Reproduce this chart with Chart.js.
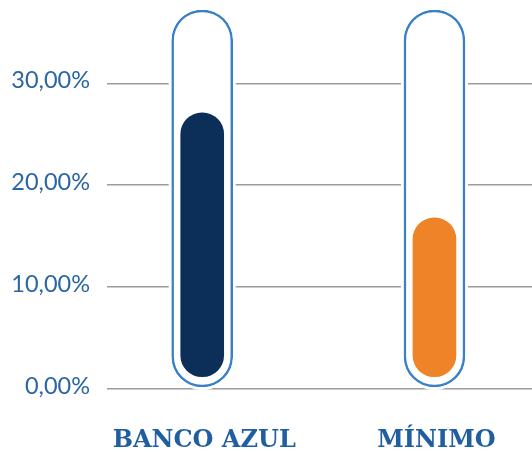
<!DOCTYPE html>
<html lang="es">
<head>
<meta charset="utf-8">
<title>Banco Azul vs mínimo</title>
<script src="https://cdn.jsdelivr.net/npm/chart.js@4/dist/chart.umd.min.js"></script>
<style>
  html, body { margin: 0; padding: 0; background: #fff; }
  canvas { display: block; }
</style>
</head>
<body>
<canvas id="tubes" width="532" height="452"></canvas>
<script>
// ---- Data ----
const categories = ["BANCO AZUL", "MÍNIMO"];
const rates = [27.1, 16.8];          // % filled in each tube
const tubeTop = [37.2, 37.2];        // tube capacity (outline height)
const yTicks = [0, 10, 20, 30];

const fillColors = ["#0c2f5a", "#ee8427"];
const tubeBlue = "#3a80c6";
const labelBlue = "#2a66a5";

// ---- Helpers ----
function pct(v) {
  return v.toFixed(2).replace(".", ",") + "%";
}

function points(values) {
  return values.map((v, i) => ({ x: i, y: v }));
}

// white margin round each tube so the grid lines stop short of it
const tubeHalo = {
  id: "tubeHalo",
  beforeDatasetsDraw(chart) {
    const meta = chart.getDatasetMeta(1);
    const c = chart.ctx;
    c.save();
    c.fillStyle = "#fff";
    meta.data.forEach(bar => {
      const { x, y, base, width } = bar.getProps(["x", "y", "base", "width"], true);
      const w = width / 2 + 3;
      c.beginPath();
      c.roundRect(x - w, y - 3, w * 2, base - y + 6, w);
      c.fill();
    });
    c.restore();
  }
};

// ---- Chart.js ----
const ctx = document.getElementById("tubes").getContext("2d");

new Chart(ctx, {
  type: "bar",
  data: {
    datasets: [
      {
        label: "Tasa",
        data: points(rates),
        backgroundColor: fillColors,
        barThickness: 43,
        borderRadius: 22,
        borderSkipped: false,
        base: 1.2
      },
      {
        label: "Tubo",
        data: points(tubeTop),
        backgroundColor: "#fff",
        borderColor: tubeBlue,
        borderWidth: 2.5,
        barThickness: 61,
        borderRadius: 31,
        borderSkipped: false,
        base: 0.2
      }
    ]
  },
  options: {
    responsive: false,
    animation: false,
    devicePixelRatio: 1,
    layout: { padding: { top: 10, right: 0, bottom: 0, left: 0 } },
    plugins: {
      legend: { display: false },
      tooltip: { enabled: false }
    },
    datasets: { bar: { grouped: false } },
    scales: {
      x: {
        type: "linear",
        offset: false,
        min: -0.41,
        max: 1.42,
        grid: { display: false },
        border: { display: false },
        afterBuildTicks: scale => {
          scale.ticks = categories.map((_, i) => ({ value: i }));
        },
        afterFit: scale => {
          scale.height = 63;
          scale.paddingLeft = 0;
          scale.paddingRight = 0;
        },
        ticks: {
          autoSkip: false,
          maxRotation: 0,
          padding: 29,
          labelOffset: 2,
          color: "#1f5e9f",
          font: { family: "DejaVu Serif", size: 24, weight: "bold" },
          callback: v => categories[v]
        }
      },
      y: {
        min: 0,
        max: 37.2,
        grid: { color: "#9c9c9c", lineWidth: 1.6, drawTicks: false },
        border: { display: false },
        afterBuildTicks: scale => {
          scale.ticks = yTicks.map(v => ({ value: v }));
        },
        afterFit: scale => {
          scale.width = 107;
          scale.paddingTop = 0;
          scale.paddingBottom = 0;
        },
        ticks: {
          padding: 17,
          labelOffset: -3,
          color: labelBlue,
          font: { family: "Lato", size: 23.5 },
          callback: v => pct(v)
        }
      }
    }
  },
  plugins: [tubeHalo]
});
</script>
</body>
</html>
